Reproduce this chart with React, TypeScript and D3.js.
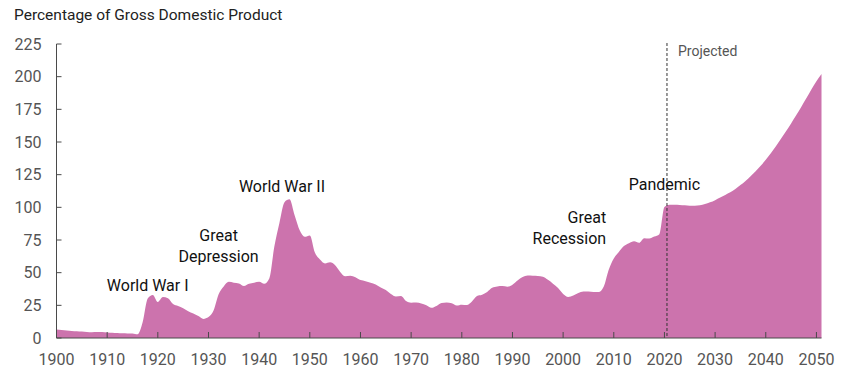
import React, { useEffect, useRef } from 'react';
import * as d3 from 'd3';

// Debt held by the public, percent of GDP
const histStart = 1900;
const historical = [
  6.5, 6.1, 5.7, 5.4, 5.1, 4.9, 4.6, 4.4, 4.5, 4.5,
  4.2, 4.0, 3.8, 3.6, 3.5, 3.4, 2.8, 12.0, 30.3, 33.0,
  27.6, 31.3, 30.4, 26.0, 24.5, 22.8, 20.5, 18.8, 16.8, 14.6,
  16.0, 21.0, 33.5, 39.5, 43.0, 42.3, 41.8, 39.8, 41.5, 42.3,
  43.0, 41.5, 45.5, 70.0, 88.0, 103.9, 106.1, 93.9, 82.4, 77.4,
  78.5, 65.4, 60.1, 57.1, 57.9, 55.7, 50.6, 47.2, 47.7, 46.4,
  44.3, 43.5, 42.3, 41.0, 38.7, 36.7, 33.7, 31.8, 32.2, 28.3,
  27.0, 27.1, 26.4, 25.1, 23.1, 24.5, 26.7, 27.1, 26.6, 24.9,
  25.5, 25.2, 27.9, 32.1, 33.1, 35.3, 38.4, 39.5, 39.8, 39.3,
  40.8, 44.0, 46.6, 47.8, 47.7, 47.5, 46.8, 44.5, 41.6, 38.2,
  33.7, 31.4, 32.5, 34.5, 35.5, 35.6, 35.3, 35.2, 39.2, 52.3,
  60.9, 65.9, 70.4, 72.6, 74.1, 72.9, 76.4, 76.2, 77.6, 79.4,
  100.3,
];
const projStart = 2021;
const projected = [
  102.0, 102.0, 101.8, 101.5, 101.3, 101.2, 101.6, 102.5, 103.8, 105.5,
  107.5, 109.5, 111.5, 114.0, 117.0, 120.2, 123.8, 127.6, 131.8, 136.4,
  141.4, 146.8, 152.4, 158.2, 164.2, 170.4, 176.8, 183.4, 190.2, 196.5,
  202.0,
];

const yTicks = [0, 25, 50, 75, 100, 125, 150, 175, 200, 225];
const xTicks = [1900, 1910, 1920, 1930, 1940, 1950, 1960, 1970, 1980, 1990, 2000, 2010, 2020, 2030, 2040, 2050];
const projectionMark = 2020.5;

const events = [
  { year: 1918, value: 36, lines: ['World War I'], anchor: 'middle' },
  { year: 1932, value: 58, lines: ['Great', 'Depression'], anchor: 'middle' },
  { year: 1944.5, value: 112, lines: ['World War II'], anchor: 'middle' },
  { year: 2008.5, value: 72, lines: ['Great', 'Recession'], anchor: 'end' },
  { year: 2020, value: 113, lines: ['Pandemic'], anchor: 'middle' },
];

const App: React.FC = () => {
  const svgRef = useRef<SVGSVGElement>(null);

  useEffect(() => {
    if (!svgRef.current) return;
    const width = 848;
    const height = 385;
    const left = 56.5;
    const right = 821.5;
    const top = 44;
    const bottom = 338;
    const font = 'Roboto, "Open Sans", sans-serif';

    const svg = d3.select(svgRef.current);
    svg.selectAll('*').remove();
    svg.attr('width', width).attr('height', height).attr('viewBox', `0 0 ${width} ${height}`);

    const data = [
      ...historical.map((v, i) => ({ year: histStart + i, value: v })),
      ...projected.map((v, i) => ({ year: projStart + i, value: v })),
    ];

    const x = d3.scaleLinear().domain([1900, 2051]).range([left, right]);
    const y = d3.scaleLinear().domain([0, 225]).range([bottom, top]);

    // Area
    const area = d3.area<{ year: number; value: number }>()
      .x(d => x(d.year))
      .y0(y(0))
      .y1(d => y(d.value))
      .curve(d3.curveMonotoneX);

    svg.append('path')
      .datum(data)
      .attr('d', area)
      .attr('fill', '#cc73ad');

    // Title
    svg.append('text')
      .attr('x', 14)
      .attr('y', 20)
      .text('Percentage of Gross Domestic Product')
      .attr('font-family', font)
      .attr('font-size', '15.5px')
      .attr('fill', '#222');

    // Y axis
    const yAxis = svg.append('g').attr('transform', `translate(${left},0)`);
    yAxis.append('line')
      .attr('x1', 0).attr('x2', 0)
      .attr('y1', y(225)).attr('y2', y(0))
      .attr('stroke', '#4a4a4a').attr('stroke-width', 1);
    yTicks.forEach(t => {
      yAxis.append('line')
        .attr('x1', 0).attr('x2', 5)
        .attr('y1', y(t)).attr('y2', y(t))
        .attr('stroke', '#4a4a4a');
      yAxis.append('text')
        .attr('x', -15)
        .attr('y', y(t))
        .attr('dy', '0.35em')
        .attr('text-anchor', 'end')
        .text(t)
        .attr('font-family', font)
        .attr('font-size', '16px')
        .attr('fill', '#555');
    });

    // X axis
    const xAxis = svg.append('g').attr('transform', `translate(0,${bottom})`);
    xAxis.append('line')
      .attr('x1', left).attr('x2', right)
      .attr('y1', 0).attr('y2', 0)
      .attr('stroke', '#4a4a4a').attr('stroke-width', 1.2);
    xTicks.forEach(t => {
      xAxis.append('line')
        .attr('x1', x(t)).attr('x2', x(t))
        .attr('y1', 0).attr('y2', -6)
        .attr('stroke', '#4a4a4a');
      xAxis.append('text')
        .attr('x', x(t))
        .attr('y', 27)
        .attr('text-anchor', 'middle')
        .text(t)
        .attr('font-family', font)
        .attr('font-size', '16px')
        .attr('fill', '#555');
    });

    // Projection marker
    svg.append('line')
      .attr('x1', x(projectionMark)).attr('x2', x(projectionMark))
      .attr('y1', 43).attr('y2', bottom)
      .attr('stroke', '#333')
      .attr('stroke-width', 1)
      .attr('stroke-dasharray', '3,2');
    svg.append('text')
      .attr('x', x(projectionMark) + 11)
      .attr('y', 56)
      .text('Projected')
      .attr('font-family', font)
      .attr('font-size', '14px')
      .attr('fill', '#555');

    // Event labels
    events.forEach(e => {
      const ax = x(e.year);
      const n = e.lines.length;
      e.lines.forEach((line, i) => {
        svg.append('text')
          .attr('x', ax)
          .attr('y', y(e.value) - (n - 1 - i) * 21)
          .attr('text-anchor', e.anchor)
          .text(line)
          .attr('font-family', font)
          .attr('font-size', '16px')
          .attr('fill', '#111');
      });
    });
  }, []);

  return <svg ref={svgRef} style={{ position: 'absolute', left: 0, top: 0 }}></svg>;
};

export default App;
